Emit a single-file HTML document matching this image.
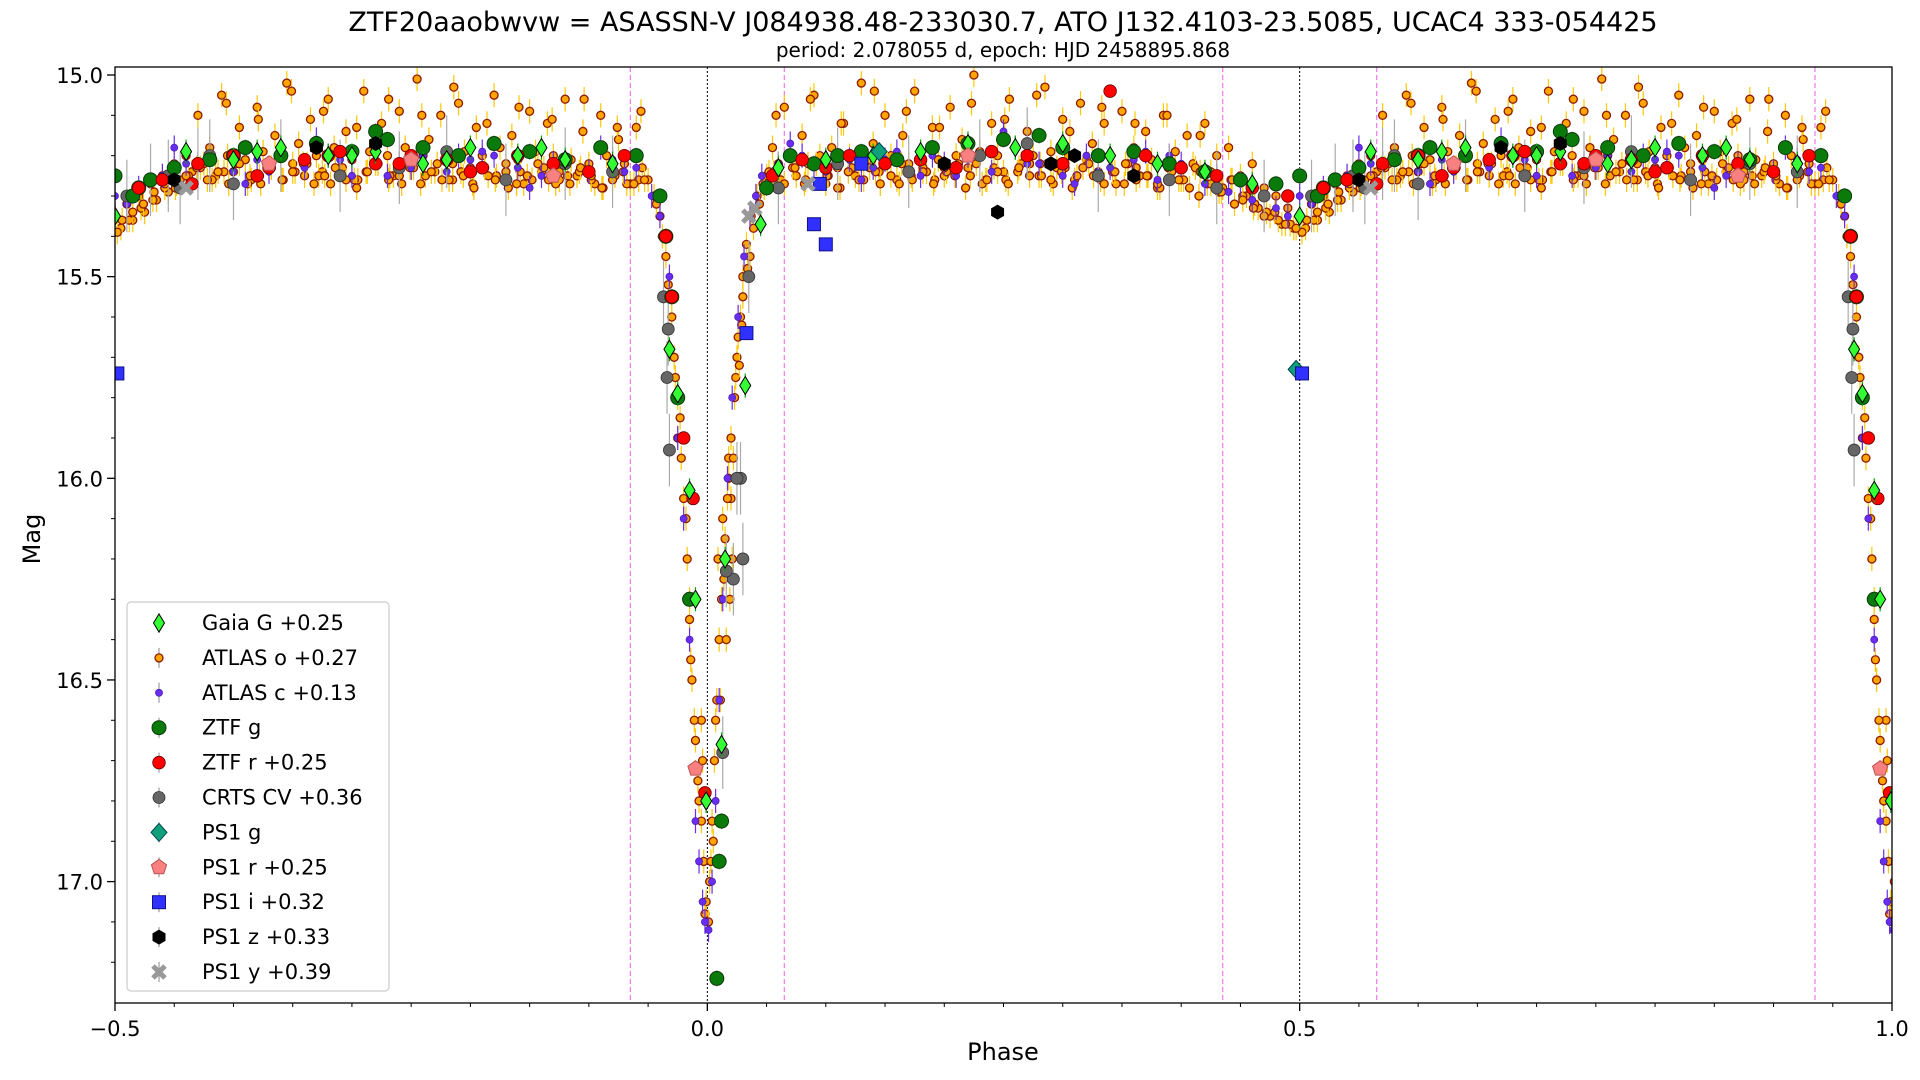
<!DOCTYPE html>
<html><head><meta charset="utf-8">
<style>
body{margin:0;background:#fff;}
svg{display:block;font-family:"DejaVu Sans","Liberation Sans",sans-serif;}
</style></head>
<body>
<svg id="chart" width="1920" height="1080">
<text x="1003" y="31" font-size="27" text-anchor="middle">ZTF20aaobwvw = ASASSN-V J084938.48-233030.7, ATO J132.4103-23.5085, UCAC4 333-054425</text>
<text x="1003" y="57" font-size="20" text-anchor="middle">period: 2.078055 d, epoch: HJD 2458895.868</text>
<defs><clipPath id="plotclip"><rect x="115" y="67" width="1777" height="936"/></clipPath></defs>
<g id="guides"></g>
<g id="marks" clip-path="url(#plotclip)"></g>
<rect x="115" y="67" width="1777" height="936" fill="none" stroke="#000" stroke-width="1.3"/>
<g id="axes"></g>
<text x="1003" y="1060" font-size="24" text-anchor="middle">Phase</text>
<text x="0" y="0" font-size="24" text-anchor="middle" transform="translate(40,539) rotate(-90)">Mag</text>
<g id="legend"></g>
</svg>
<script>
// ---- data (phase in [0,1), magnitude) ----
const atlasOPhase=[0.955,0.96,0.965,0.97,0.972,0.975,0.978,0.98,0.983,0.985,0.987,0.99,0.992,0.995,0.997,0.999,0.002,0.004,0.006,0.008,0.01,0.012,0.015,0.018,0.02,0.023,0.026,0.03,0.033,0.037,0.042,0.047,0.975,0.985,0.995,0.005,0.013,0.02,0.025,0.03,0.996,0.018,0.021,0.016,0.011,0.009,0.024,0.028,
0.05,0.055,0.06,0.065,0.07,0.075,0.08,0.085,0.09,0.095,0.1,0.105,0.11,0.115,0.12,0.125,0.13,0.135,0.14,0.145,0.15,0.155,0.16,0.165,0.17,0.175,0.18,0.185,0.19,0.195,0.2,0.205,0.21,0.215,0.22,0.225,0.23,0.235,0.24,0.245,0.25,0.255,0.26,0.265,0.27,0.275,0.28,0.285,0.29,0.295,0.3,0.305,0.31,0.315,0.32,0.325,0.33,0.335,0.34,0.345,0.35,0.355,0.36,0.365,0.37,0.375,0.38,0.385,0.39,0.395,0.4,0.405,0.41,0.415,0.42,0.425,0.43,0.435,0.44,0.445,0.45,0.455,0.46,0.465,0.47,0.475,0.48,0.485,0.49,0.495,0.5,0.505,0.51,0.515,0.52,0.525,0.53,0.535,0.54,0.545,0.55,0.555,0.56,0.565,0.57,0.575,0.58,0.585,0.59,0.595,0.6,0.605,0.61,0.615,0.62,0.625,0.63,0.635,0.64,0.645,0.65,0.655,0.66,0.665,0.67,0.675,0.68,0.685,0.69,0.695,0.7,0.705,0.71,0.715,0.72,0.725,0.73,0.735,0.74,0.745,0.75,0.755,0.76,0.765,0.77,0.775,0.78,0.785,0.79,0.795,0.8,0.805,0.81,0.815,0.82,0.825,0.83,0.835,0.84,0.845,0.85,0.855,0.86,0.865,0.87,0.875,0.88,0.885,0.89,0.895,0.9,0.905,0.91,0.915,0.92,0.925,0.93,0.935,0.94,0.945,0.95,
0.052,0.062,0.072,0.082,0.092,0.102,0.112,0.122,0.132,0.142,0.152,0.162,0.172,0.182,0.192,0.202,0.212,0.222,0.232,0.242,0.252,0.262,0.272,0.282,0.292,0.302,0.312,0.322,0.332,0.342,0.352,0.362,0.372,0.382,0.392,0.402,0.412,0.422,0.432,0.442,0.452,0.462,0.472,0.482,0.492,0.502,0.512,0.522,0.532,0.542,0.552,0.562,0.572,0.582,0.592,0.602,0.612,0.622,0.632,0.642,0.652,0.662,0.672,0.682,0.692,0.702,0.712,0.722,0.732,0.742,0.752,0.762,0.772,0.782,0.792,0.802,0.812,0.822,0.832,0.842,0.852,0.862,0.872,0.882,0.892,0.902,0.912,0.922,0.932,0.942];
const atlasOMag=[15.30,15.35,15.45,15.6,15.7,15.8,15.95,16.05,16.2,16.35,16.5,16.65,16.75,16.85,16.95,17.05,17.0,16.85,16.7,16.55,16.4,16.3,16.15,16.0,15.9,15.8,15.65,15.5,15.42,15.35,15.3,15.27,15.9,16.3,16.6,16.9,16.1,16.05,15.7,15.55,16.7,15.95,16.2,16.4,16.55,16.2,15.75,15.6,
15.25,15.18,15.22,15.08,15.2,15.25,15.15,15.22,15.05,15.2,15.27,15.18,15.23,15.12,15.2,15.25,15.02,15.21,15.17,15.24,15.1,15.2,15.26,15.15,15.22,15.04,15.19,15.24,15.13,15.21,15.25,15.08,15.2,15.16,15.23,15.0,15.19,15.26,15.12,15.2,15.24,15.06,15.18,15.22,15.14,15.2,15.25,15.03,15.19,15.23,15.11,15.2,15.26,15.07,15.21,15.17,15.24,15.12,15.2,15.27,15.09,15.22,15.18,15.25,15.14,15.21,15.28,15.1,15.23,15.19,15.26,15.15,15.22,15.3,15.12,15.24,15.2,15.28,15.18,15.32,15.25,15.3,15.22,15.33,15.28,15.35,15.3,15.37,15.33,15.38,15.35,15.38,15.32,15.36,15.3,15.34,15.27,15.31,15.25,15.29,15.22,15.26,15.2,15.24,15.1,15.22,15.18,15.25,15.05,15.2,15.24,15.13,15.21,15.26,15.08,15.19,15.23,15.15,15.2,15.02,15.22,15.17,15.25,15.11,15.2,15.24,15.06,15.18,15.23,15.14,15.21,15.26,15.04,15.19,15.22,15.12,15.2,15.25,15.09,15.18,15.23,15.01,15.2,15.16,15.24,15.1,15.21,15.26,15.07,15.19,15.23,15.13,15.2,15.25,15.05,15.18,15.22,15.15,15.21,15.27,15.09,15.19,15.24,15.12,15.2,15.26,15.06,15.21,15.25,15.14,15.22,15.27,15.1,15.2,15.24,15.16,15.22,15.27,15.13,15.23,15.26,
15.24,15.26,15.23,15.27,15.22,15.25,15.28,15.23,15.26,15.24,15.22,15.27,15.25,15.23,15.26,15.24,15.22,15.25,15.27,15.23,15.26,15.24,15.22,15.25,15.27,15.23,15.25,15.22,15.26,15.24,15.27,15.23,15.25,15.28,15.24,15.26,15.23,15.27,15.29,15.26,15.3,15.32,15.34,15.36,15.37,15.39,15.36,15.33,15.31,15.28,15.27,15.25,15.23,15.26,15.24,15.22,15.27,15.25,15.23,15.26,15.24,15.22,15.25,15.27,15.23,15.26,15.24,15.22,15.25,15.27,15.23,15.25,15.22,15.26,15.24,15.27,15.23,15.25,15.28,15.24,15.26,15.23,15.27,15.25,15.24,15.26,15.28,15.25,15.27,15.26];
const atlasOPhaseB=[0.957,0.962,0.967,0.973,0.977,0.982,0.986,0.989,0.993,0.998,0.001,0.003,0.007,0.014,0.017,0.019,0.022,0.027,0.029,0.034,0.036,0.039,0.044,0.048,
0.056,0.065,0.074,0.083,0.092,0.101,0.11,0.119,0.128,0.137,0.146,0.155,0.164,0.173,0.182,0.191,0.2,0.209,0.218,0.227,0.236,0.245,0.254,0.263,0.272,0.281,0.29,0.299,0.308,0.317,0.326,0.335,0.344,0.353,0.362,0.371,0.38,0.389,0.398,0.407,0.416,0.425,0.434,0.443,0.452,0.461,0.47,0.479,0.488,0.497,0.506,0.515,0.524,0.533,0.542,0.551,0.56,0.569,0.578,0.587,0.596,0.605,0.614,0.623,0.632,0.641,0.65,0.659,0.668,0.677,0.686,0.695,0.704,0.713,0.722,0.731,0.74,0.749,0.758,0.767,0.776,0.785,0.794,0.803,0.812,0.821,0.83,0.839,0.848,0.857,0.866,0.875,0.884,0.893,0.902,0.911,0.92,0.929,0.938,0.947,
0.058,0.087,0.113,0.141,0.168,0.196,0.223,0.251,0.278,0.306,0.333,0.361,0.388,0.416,0.594,0.621,0.649,0.676,0.704,0.731,0.759,0.786,0.814,0.841,0.869,0.896,0.924,0.944];
const atlasOMagB=[15.32,15.4,15.52,15.75,15.85,16.1,16.45,16.6,16.8,17.08,17.1,16.95,16.6,16.25,16.05,16.3,15.95,15.72,15.62,15.48,15.45,15.38,15.32,15.28,
15.24,15.27,15.23,15.26,15.22,15.25,15.28,15.24,15.26,15.23,15.27,15.25,15.22,15.26,15.24,15.27,15.23,15.25,15.28,15.22,15.26,15.24,15.27,15.23,15.25,15.22,15.26,15.24,15.28,15.23,15.25,15.27,15.24,15.22,15.26,15.25,15.27,15.23,15.26,15.28,15.24,15.27,15.29,15.26,15.31,15.33,15.35,15.34,15.37,15.38,15.36,15.34,15.32,15.29,15.27,15.28,15.25,15.23,15.26,15.24,15.27,15.22,15.25,15.27,15.23,15.26,15.24,15.22,15.27,15.25,15.23,15.26,15.28,15.24,15.22,15.26,15.25,15.23,15.27,15.24,15.26,15.22,15.25,15.28,15.23,15.26,15.24,15.27,15.25,15.22,15.26,15.24,15.27,15.23,15.25,15.28,15.26,15.24,15.27,15.26,
15.1,15.06,15.12,15.04,15.09,15.13,15.07,15.11,15.05,15.14,15.08,15.12,15.1,15.15,15.07,15.11,15.04,15.09,15.13,15.06,15.1,15.03,15.12,15.08,15.11,15.06,15.13,15.09];
const atlasCPhase=[0.96,0.968,0.975,0.98,0.985,0.99,0.993,0.996,0.998,0.001,0.004,0.007,0.01,0.013,0.017,0.021,0.026,0.031,0.036,0.041,0.046,0.06,0.08,0.1,0.12,0.14,0.16,0.18,0.2,0.22,0.24,0.26,0.28,0.3,0.32,0.34,0.36,0.38,0.4,0.42,0.44,0.46,0.48,0.5,0.52,0.54,0.56,0.58,0.6,0.62,0.64,0.66,0.68,0.7,0.72,0.74,0.76,0.78,0.8,0.82,0.84,0.86,0.88,0.9,0.92,0.94,0.07,0.13,0.19,0.25,0.31,0.37,0.43,0.49,0.55,0.61,0.67,0.73,0.79,0.85,0.91,0.953,0.09,0.15,0.21,0.27,0.33,0.39,0.45,0.51,0.57,0.63,0.69,0.75,0.81,0.87,0.93];
const atlasCMag=[15.35,15.5,15.9,16.1,16.4,16.85,16.95,17.05,17.1,17.12,17.0,16.8,16.55,16.3,16.0,15.8,15.6,15.45,15.35,15.3,15.25,15.22,15.2,15.24,15.21,15.23,15.19,15.25,15.22,15.2,15.24,15.18,15.22,15.25,15.2,15.23,15.21,15.26,15.22,15.27,15.29,15.31,15.33,15.3,15.28,15.25,15.22,15.2,15.24,15.21,15.18,15.23,15.2,15.25,15.19,15.22,15.2,15.24,15.21,15.2,15.23,15.25,15.22,15.24,15.21,15.23,15.17,15.26,15.2,15.14,15.27,15.19,15.25,15.35,15.18,15.27,15.16,15.25,15.2,15.28,15.18,15.3,15.23,15.21,15.25,15.22,15.24,15.2,15.27,15.32,15.22,15.24,15.21,15.23,15.19,15.22,15.24];
const crtsPhase=[0.963,0.967,0.966,0.968,0.035,0.028,0.03,0.022,0.013,0.016,0.025,0.06,0.11,0.17,0.23,0.27,0.33,0.39,0.43,0.47,0.51,0.53,0.57,0.6,0.64,0.69,0.74,0.78,0.83,0.88,0.92,0.555,0.545,0.58];
const crtsMag=[15.55,15.63,15.75,15.93,15.5,16.0,16.2,16.25,16.68,16.23,16.0,15.28,15.22,15.24,15.2,15.17,15.25,15.26,15.28,15.3,15.3,15.26,15.22,15.27,15.2,15.25,15.23,15.19,15.26,15.22,15.24,15.28,15.25,15.2];
const ztfgPhase=[0.008,0.01,0.012,0.985,0.975,0.97,0.965,0.96,0.05,0.07,0.09,0.11,0.13,0.16,0.19,0.22,0.25,0.28,0.3,0.33,0.36,0.39,0.42,0.45,0.48,0.5,0.52,0.55,0.58,0.61,0.64,0.67,0.7,0.73,0.76,0.79,0.82,0.85,0.88,0.91,0.94,0.515,0.53,0.6,0.72];
const ztfgMag=[17.24,16.95,16.85,16.3,15.8,15.55,15.4,15.3,15.28,15.2,15.22,15.2,15.19,15.21,15.18,15.17,15.16,15.15,15.18,15.2,15.19,15.22,15.24,15.26,15.27,15.25,15.28,15.23,15.21,15.18,15.2,15.17,15.19,15.16,15.18,15.2,15.17,15.19,15.21,15.18,15.2,15.3,15.26,15.2,15.14];
const ztfrPhase=[0.965,0.97,0.98,0.988,0.998,0.055,0.08,0.1,0.12,0.15,0.18,0.21,0.24,0.27,0.3,0.34,0.37,0.4,0.43,0.46,0.49,0.52,0.54,0.57,0.6,0.63,0.66,0.69,0.72,0.75,0.78,0.81,0.84,0.87,0.9,0.93,0.565,0.62,0.68,0.74,0.8];
const ztfrMag=[15.4,15.55,15.9,16.05,16.78,15.25,15.21,15.23,15.2,15.22,15.21,15.23,15.19,15.2,15.22,15.04,15.2,15.23,15.25,15.28,15.3,15.28,15.26,15.22,15.2,15.23,15.21,15.19,15.22,15.2,15.21,15.23,15.2,15.22,15.24,15.2,15.27,15.25,15.2,15.22,15.24];
const gaiaPhase=[0.968,0.975,0.985,0.99,0.999,0.012,0.015,0.032,0.045,0.06,0.1,0.14,0.18,0.22,0.26,0.3,0.34,0.38,0.42,0.46,0.5,0.56,0.6,0.64,0.68,0.72,0.76,0.8,0.84,0.88,0.92,0.62,0.7,0.78,0.86];
const gaiaMag=[15.68,15.79,16.03,16.3,16.8,16.66,16.2,15.77,15.37,15.23,15.21,15.2,15.19,15.17,15.18,15.17,15.2,15.22,15.24,15.27,15.35,15.19,15.21,15.18,15.2,15.19,15.22,15.18,15.2,15.21,15.22,15.19,15.2,15.21,15.18];
const ps1iPhase=[0.502,0.033,0.09,0.1,0.095,0.13];
const ps1iMag=[15.74,15.64,15.37,15.42,15.27,15.22];
const ps1zPhase=[0.245,0.36,0.55,0.2,0.29,0.72,0.67,0.31];
const ps1zMag=[15.34,15.25,15.26,15.22,15.22,15.17,15.18,15.2];
const ps1gPhase=[0.497,0.145];
const ps1gMag=[15.73,15.19];
const ps1rPhase=[0.99,0.22,0.63,0.87,0.75];
const ps1rMag=[16.72,15.2,15.22,15.25,15.21];
const ps1yPhase=[0.04,0.035,0.56,0.085];
const ps1yMag=[15.33,15.35,15.28,15.27];
const xTicks=[-0.5,0.0,0.5,1.0];
const xTickLabels=["\u22120.5","0.0","0.5","1.0"];
const yTicks=[15.0,15.5,16.0,16.5,17.0];
const yTickLabels=["15.0","15.5","16.0","16.5","17.0"];
const dottedLines=[0.0,0.5];
const dashedLines=[-0.065,0.065,0.435,0.565,0.935];
const legendLabels=["Gaia G +0.25","ATLAS o +0.27","ATLAS c +0.13","ZTF g","ZTF r +0.25","CRTS CV +0.36","PS1 g","PS1 r +0.25","PS1 i +0.32","PS1 z +0.33","PS1 y +0.39"];

// ---- axes ----
const NS="http://www.w3.org/2000/svg";
const X0=115,X1=1892,Y0=67,Y1=1003;
function xs(p){return X0+(p+0.5)*(X1-X0)/1.5;}
function ys(m){return 75+(m-15)*403.3;}
function mk(tag,attrs,parent){const e=document.createElementNS(NS,tag);for(const k in attrs)e.setAttribute(k,attrs[k]);parent.appendChild(e);return e;}
const gAx=document.getElementById('axes'),gG=document.getElementById('guides'),gM=document.getElementById('marks'),gL=document.getElementById('legend');

dottedLines.forEach(p=>{const l=mk('line',{x1:xs(p),x2:xs(p),y1:Y0,y2:Y1,stroke:'#000','stroke-width':1,'stroke-dasharray':'2,2'},gG);

});
dashedLines.forEach(p=>{const l=mk('line',{x1:xs(p),x2:xs(p),y1:Y0,y2:Y1,stroke:'#ee82ee','stroke-width':1.3,'stroke-dasharray':'5,3'},gG);

});

xTicks.forEach((v,i)=>{mk('line',{x1:xs(v),x2:xs(v),y1:Y1,y2:Y1+8,stroke:'#000','stroke-width':1.3},gAx);
const t=mk('text',{x:xs(v),y:Y1+33,'font-size':21,'text-anchor':'middle'},gAx);t.textContent=xTickLabels[i];

});
for(let k=-9;k<=19;k++){const v=k*0.05;if(xTicks.some(t=>Math.abs(t-v)<1e-6))continue;mk('line',{x1:xs(v),x2:xs(v),y1:Y1,y2:Y1+4,stroke:'#000','stroke-width':1},gAx);}
yTicks.forEach((v,i)=>{mk('line',{x1:X0-8,x2:X0,y1:ys(v),y2:ys(v),stroke:'#000','stroke-width':1.3},gAx);
const t=mk('text',{x:X0-12,y:ys(v)+8,'font-size':21,'text-anchor':'end'},gAx);t.textContent=yTickLabels[i];

});
for(let k=0;k<=22;k++){const v=15+k*0.1;if(k%5===0)continue;mk('line',{x1:X0-4,x2:X0,y1:ys(v),y2:ys(v),stroke:'#000','stroke-width':1},gAx);}

// ---- markers ----
function marker(type,cx,cy,parent){
  if(type==='atlaso')return mk('circle',{cx,cy,r:4,fill:'#ffa500',stroke:'#8b1a00','stroke-width':1.3},parent);
  if(type==='atlasc')return mk('circle',{cx,cy,r:3.6,fill:'#6a2cf0',stroke:'#3a1aa0','stroke-width':0.6},parent);
  if(type==='ztfg')return mk('circle',{cx,cy,r:7,fill:'#0a7a0a',stroke:'#0b3b0b','stroke-width':1},parent);
  if(type==='ztfr')return mk('circle',{cx,cy,r:6.3,fill:'#ff0000',stroke:'#600','stroke-width':0.8},parent);
  if(type==='crts')return mk('circle',{cx,cy,r:6,fill:'#666',stroke:'#333','stroke-width':0.8},parent);
  if(type==='gaia')return mk('polygon',{points:`${cx},${cy-9} ${cx+5.5},${cy} ${cx},${cy+9} ${cx-5.5},${cy}`,fill:'#33ff33',stroke:'#000','stroke-width':1},parent);
  if(type==='ps1g')return mk('polygon',{points:`${cx},${cy-9} ${cx+8},${cy} ${cx},${cy+9} ${cx-8},${cy}`,fill:'#10a07a',stroke:'#045','stroke-width':1},parent);
  if(type==='ps1r'){const pts=[];for(let i=0;i<5;i++){const a=-Math.PI/2+i*2*Math.PI/5;pts.push((cx+8*Math.cos(a))+','+(cy+8*Math.sin(a)));}return mk('polygon',{points:pts.join(' '),fill:'#f88080',stroke:'#b55','stroke-width':1},parent);}
  if(type==='ps1i')return mk('rect',{x:cx-6.5,y:cy-6.5,width:13,height:13,fill:'#3030ff',stroke:'#118','stroke-width':1},parent);
  if(type==='ps1z'){const pts=[];for(let i=0;i<6;i++){const a=Math.PI/6+i*Math.PI/3;pts.push((cx+7.5*Math.cos(a))+','+(cy+7.5*Math.sin(a)));}return mk('polygon',{points:pts.join(' '),fill:'#000'},parent);}
  if(type==='ps1y')return mk('path',{d:`M${cx-6},${cy-6}L${cx+6},${cy+6}M${cx+6},${cy-6}L${cx-6},${cy+6}`,stroke:'#999','stroke-width':5},parent);
}
const errBar={atlaso:[0.03,'#ffc800'],atlasc:[0.03,'#6a2cf0'],crts:[0.09,'#aaa'],ztfg:[0.02,'#999'],gaia:[0.03,'#0a0']};
function series(type,ph,mg,name){
  const g=mk('g',{},gM);
  
  
  for(let i=0;i<ph.length;i++){
    const reps=[ph[i]];if(ph[i]>=0.5)reps.push(ph[i]-1);if(ph[i]<0.06)reps.push(ph[i]+1);
    reps.forEach(p=>{const cx=xs(p),cy=ys(mg[i]);
      if(errBar[type]){const [e,c]=errBar[type];mk('line',{x1:cx,x2:cx,y1:ys(mg[i]-e),y2:ys(mg[i]+e),stroke:c,'stroke-width':1.2},g);}
      const m=marker(type,cx,cy,g);
      
      
    });
  }
}
series('atlaso',atlasOPhase,atlasOMag,'atlas-o-series');
series('atlaso',atlasOPhaseB,atlasOMagB,'atlas-o-series-b');
series('atlasc',atlasCPhase,atlasCMag,'atlas-c-series');
series('crts',crtsPhase,crtsMag,'crts-series');
series('ztfg',ztfgPhase,ztfgMag,'ztf-g-series');
series('ztfr',ztfrPhase,ztfrMag,'ztf-r-series');
series('gaia',gaiaPhase,gaiaMag,'gaia-series');
series('ps1g',ps1gPhase,ps1gMag,'ps1-g-series');
series('ps1r',ps1rPhase,ps1rMag,'ps1-r-series');
series('ps1i',ps1iPhase,ps1iMag,'ps1-i-series');
series('ps1z',ps1zPhase,ps1zMag,'ps1-z-series');
series('ps1y',ps1yPhase,ps1yMag,'ps1-y-series');

// ---- legend ----
const lb=mk('rect',{x:127,y:602,width:262,height:389,rx:4,fill:'#fff','fill-opacity':0.85,stroke:'#ccc','stroke-width':1.2},gL);


const legTypes=['gaia','atlaso','atlasc','ztfg','ztfr','crts','ps1g','ps1r','ps1i','ps1z','ps1y'];
legendLabels.forEach((lab,i)=>{
  const cy=623+i*34.9;
  const g=mk('g',{},gL);
  
  
  mk('line',{x1:159,x2:159,y1:cy-10,y2:cy+10,stroke:'#888','stroke-width':1},g);
  marker(legTypes[i],159,cy,g);
  const t=mk('text',{x:202,y:cy+7,'font-size':21},g);t.textContent=lab;
});
</script>
</body></html>
